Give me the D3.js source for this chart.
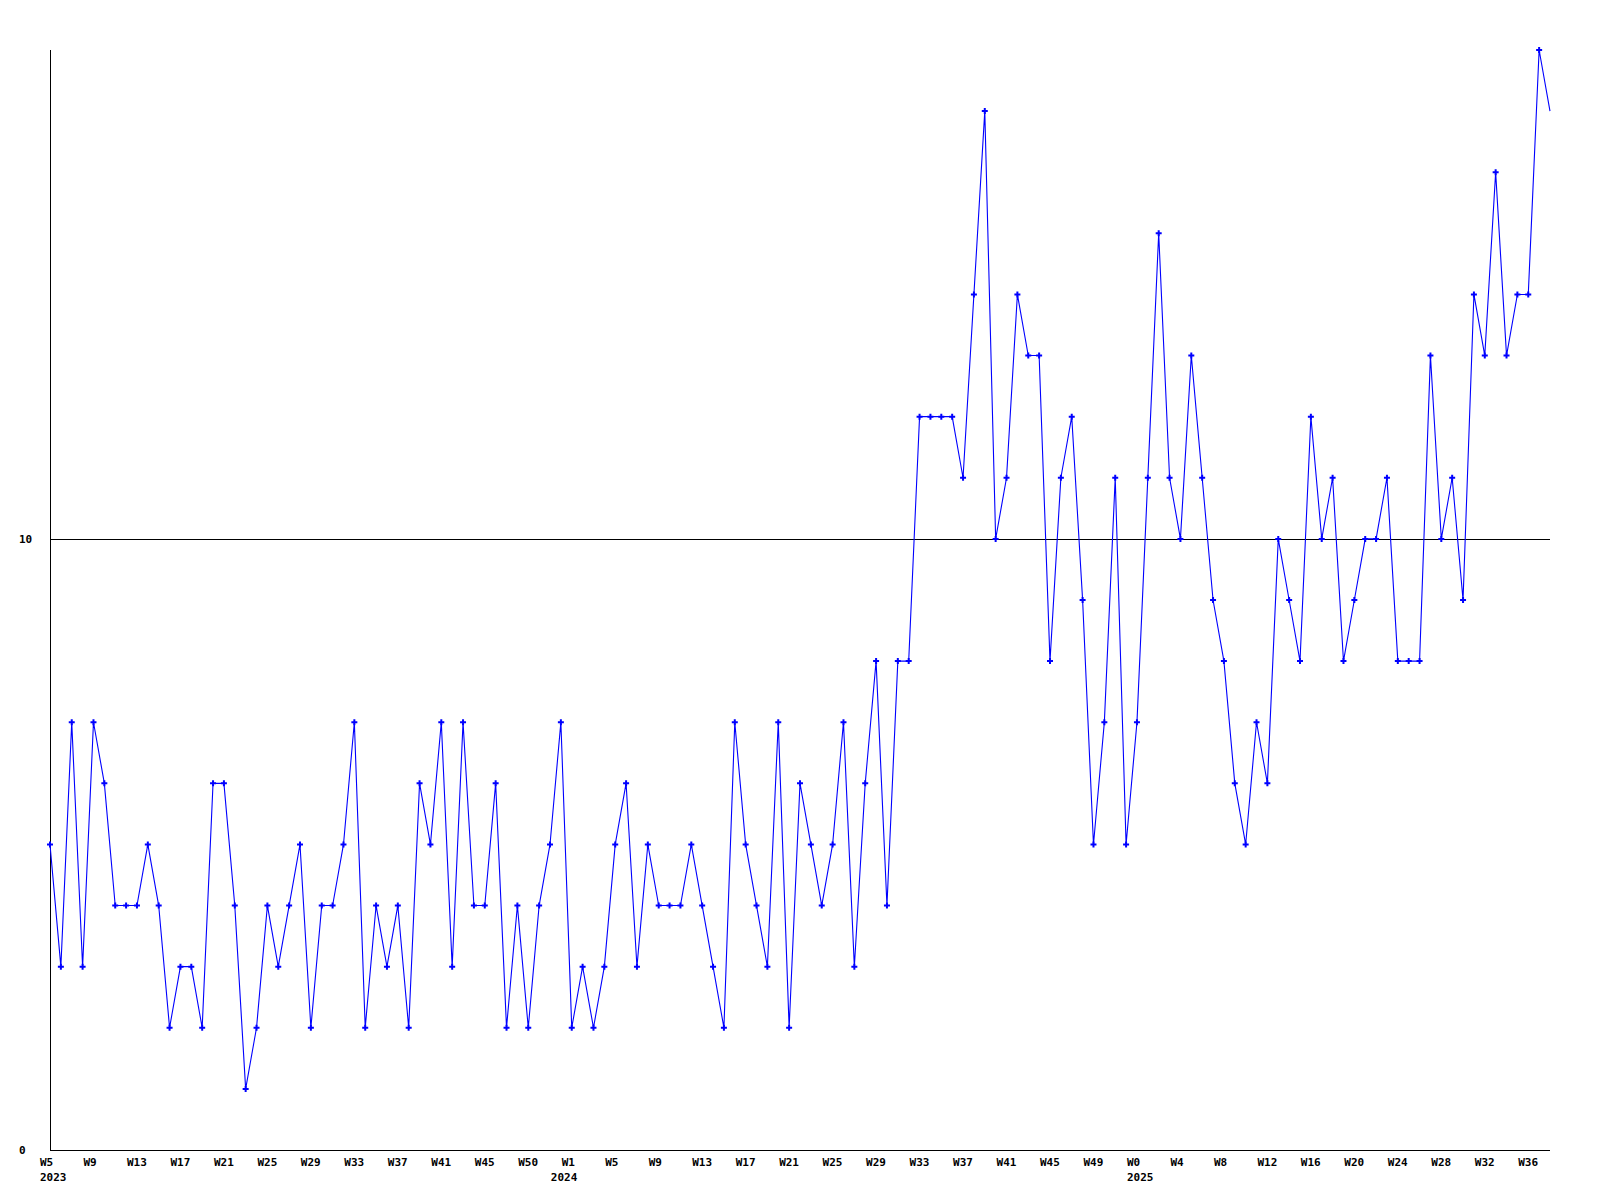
<!DOCTYPE html>
<html>
<head>
<meta charset="utf-8">
<script src="https://cdn.jsdelivr.net/npm/d3@7"></script>
<style>
  html, body { margin: 0; padding: 0; background: #ffffff; }
  svg { display: block; }
  text { font-family: "DejaVu Sans Mono", "Liberation Mono", monospace; font-weight: bold; font-size: 11px; fill: #000; }
</style>
</head>
<body>
<svg id="chart" width="1600" height="1200"></svg>
<script>
// ---- Data ----
const values = [
  5, 3, 7, 3, 7, 6, 4, 4, 4, 5, 4, 2, 3, 3, 2, 6, 6, 4, 1, 2,
  4, 3, 4, 5, 2, 4, 4, 5, 7, 2, 4, 3, 4, 2, 6, 5, 7, 3, 7, 4,
  4, 6, 2, 4, 2, 4, 5, 7, 2, 3, 2, 3, 5, 6, 3, 5, 4, 4, 4, 5,
  4, 3, 2, 7, 5, 4, 3, 7, 2, 6, 5, 4, 5, 7, 3, 6, 8, 4, 8, 8,
  12, 12, 12, 12, 11, 14, 17, 10, 11, 14, 13, 13, 8, 11, 12, 9, 5, 7, 11, 5,
  7, 11, 15, 11, 10, 13, 11, 9, 8, 6, 5, 7, 6, 10, 9, 8, 12, 10, 11, 8,
  9, 10, 10, 11, 8, 8, 8, 13, 10, 11, 9, 14, 13, 16, 13, 14, 14, 18, 17
];
// the last point is drawn without a marker (current, incomplete week)
const weekLabels = [
  "W5", "W9", "W13", "W17", "W21", "W25", "W29", "W33", "W37", "W41", "W45", "W50",
  "W1", "W5", "W9", "W13", "W17", "W21", "W25", "W29", "W33", "W37", "W41", "W45", "W49",
  "W0", "W4", "W8", "W12", "W16", "W20", "W24", "W28", "W32", "W36"
];
const yearLabels = ["2023", "2024", "2025"];
const yearPointIndex = [0, 47, 100];   // first point of each year
const tickEvery = 4;                   // one week label per 4 points
const yTicks = [0, 10];
const yMax = 18;

// ---- Layout ----
const svg = d3.select("#chart");
const plotLeft = 50, plotRight = 1550, plotTop = 50, plotBottom = 1150;

const x = d3.scaleLinear().domain([0, values.length - 1]).range([plotLeft, plotRight]);
const y = d3.scaleLinear().domain([0, yMax]).range([plotBottom, plotTop]);

svg.append("rect").attr("width", 1600).attr("height", 1200).attr("fill", "#fff");

// axes
svg.append("line")
  .attr("x1", plotLeft + 0.5).attr("x2", plotLeft + 0.5)
  .attr("y1", y(yMax)).attr("y2", y(0))
  .attr("stroke", "#000").attr("stroke-width", 1).attr("shape-rendering", "crispEdges");
svg.append("line")
  .attr("x1", plotLeft).attr("x2", plotRight)
  .attr("y1", y(0) + 0.5).attr("y2", y(0) + 0.5)
  .attr("stroke", "#000").attr("stroke-width", 1).attr("shape-rendering", "crispEdges");

// horizontal reference lines at non-zero ticks
svg.selectAll("line.grid")
  .data(yTicks.filter(d => d !== 0))
  .enter().append("line")
  .attr("class", "grid")
  .attr("x1", plotLeft).attr("x2", plotRight)
  .attr("y1", d => Math.round(y(d)) + 0.5).attr("y2", d => Math.round(y(d)) + 0.5)
  .attr("stroke", "#000").attr("stroke-width", 1).attr("shape-rendering", "crispEdges");

// y labels (left aligned)
svg.selectAll("text.ylab")
  .data(yTicks)
  .enter().append("text")
  .attr("class", "ylab")
  .attr("x", 19)
  .attr("y", d => y(d) + 4)
  .text(d => d);

// x week labels
svg.selectAll("text.xlab")
  .data(weekLabels)
  .enter().append("text")
  .attr("class", "xlab")
  .attr("x", (d, i) => x(i * tickEvery) - 10)
  .attr("y", plotBottom + 16)
  .text(d => d);

// year labels
svg.selectAll("text.year")
  .data(yearLabels)
  .enter().append("text")
  .attr("class", "year")
  .attr("x", (d, i) => x(yearPointIndex[i]) - 10)
  .attr("y", plotBottom + 31)
  .text(d => d);

// data line
const line = d3.line()
  .x((d, i) => x(i))
  .y(d => y(d));

svg.append("path")
  .datum(values)
  .attr("d", line)
  .attr("fill", "none")
  .attr("stroke", "#0000ff")
  .attr("stroke-width", 1.1);

// markers
const sym = d3.symbol().type(d3.symbolCross).size(20);
svg.selectAll("path.mark")
  .data(values.slice(0, values.length - 1))
  .enter().append("path")
  .attr("class", "mark")
  .attr("transform", (d, i) => `translate(${x(i)},${y(d)})`)
  .attr("d", sym)
  .attr("fill", "#0000ff");
</script>
</body>
</html>
